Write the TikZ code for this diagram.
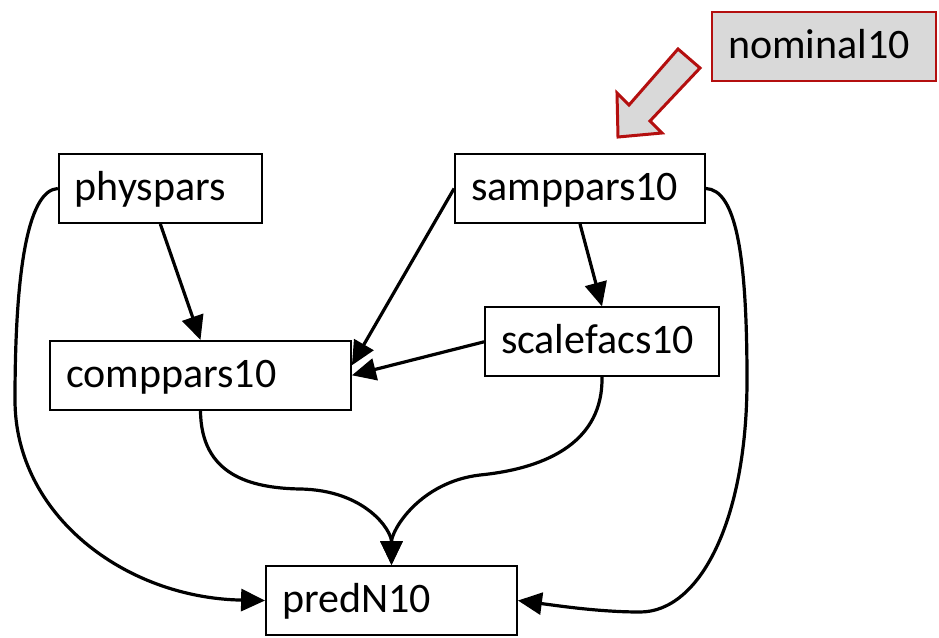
\documentclass[tikz,border=0pt]{standalone}
\usepackage{fontspec}
\setmainfont{Carlito}
\usetikzlibrary{arrows.meta,calc}
\definecolor{boxred}{RGB}{180,15,15}
\definecolor{boxgray}{RGB}{217,217,217}
\begin{document}
\begin{tikzpicture}[x=1pt,y=-1pt,
  vbox/.style={draw=black, line width=1.8pt, minimum height=69pt, inner xsep=16pt,
    font=\fontsize{42}{50}\selectfont, text height=30pt, text depth=6pt, align=left, anchor=center},
  edge/.style={line width=3.2pt, -{Triangle[length=24pt 0 0,width=22pt 0]}}]
\useasboundingbox (0,0) rectangle (939,637);
\node[vbox, text width=224pt-32pt, fill=boxgray, draw=boxred, line width=2.8pt] (nom) at (824,46.5) {nominal10};
\node[vbox, text width=203pt-32pt] (phys) at (160.3,188.5) {physpars};
\node[vbox, text width=250pt-32pt] (samp) at (580,188.5) {samppars10};
\node[vbox, text width=301pt-32pt] (comp) at (200.5,375.3) {comppars10};
\node[vbox, text width=234pt-32pt] (scale) at (602,341.8) {scalefacs10};
\node[vbox, text width=251pt-32pt] (pred) at (391.5,600.5) {predN10};
% hollow block arrow
\draw[boxred, fill=boxgray, line width=3pt, line join=miter]
  (678,49) -- (700,68) -- (650,121) -- (662,133) -- (618,137) -- (617,93) -- (629,105) -- cycle;
% straight edges
\draw[edge] (phys.south) -- (comp.north);
\draw[edge] (samp.south) -- (scale.north);
\draw[edge] (samp.west) -- ($(comp.east)+(0,-10)$);
\draw[edge] (scale.west) -- (comp.east);
% curved edges
\draw[edge] (phys.west) .. controls (30,190) and (15,260) .. (15,400)
  .. controls (15,515) and (125,598) .. (pred.west);
\draw[edge] (samp.east) .. controls (735,190) and (747,250) .. (747,380)
  .. controls (747,520) and (700,612) .. (640,612)
  .. controls (600,612) and (560,606) .. (pred.east);
\draw[edge] (comp.south) .. controls (201,475) and (250,488) .. (300,489)
  .. controls (365,490) and (391.5,530) .. (pred.north);
\draw[edge] (scale.south) .. controls (603,440) and (550,468) .. (480,475)
  .. controls (420,482) and (391.5,530) .. (pred.north);
\end{tikzpicture}
\end{document}
